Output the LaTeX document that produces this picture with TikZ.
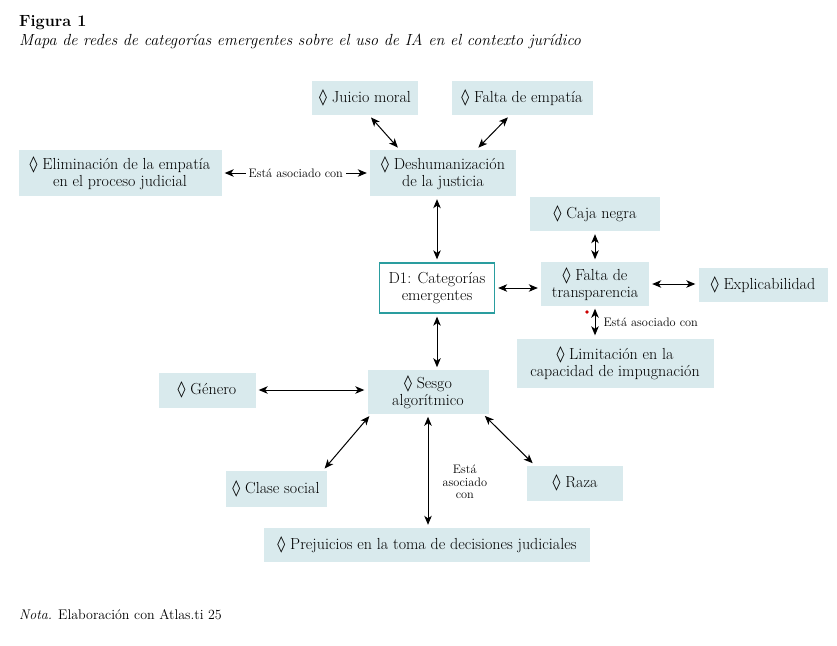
\documentclass[tikz,border=0pt]{standalone}
\usepackage{fontspec}
\usetikzlibrary{arrows, arrows.meta, positioning}
\newfontfamily\symfont{DejaVu Serif}
\newcommand{\loz}{{\symfont\char"25CA}\ }
\definecolor{boxblue}{HTML}{D9EAED}
\definecolor{tealline}{HTML}{2A9D9F}
\tikzstyle{cat} = [rectangle, fill=boxblue, inner xsep=6pt, inner ysep=5pt, align=center, font=\fontsize{16}{17}\selectfont]
\tikzstyle{core} = [rectangle, draw=tealline, line width=1.3pt, fill=white, inner sep=5pt, align=center, font=\fontsize{16}{17}\selectfont]
\tikzstyle{arrow} = [line width=1pt,<->,>={Stealth[length=9pt, width=7.5pt, inset=2.5pt]}, shorten >=3pt, shorten <=3pt]
\tikzstyle{assoc} = [fill=white, inner sep=3pt, align=center, font=\fontsize{12.3}{12.5}\selectfont]

\begin{document}
\begin{tikzpicture}[x=1pt, y=-1pt]
\useasboundingbox (0,0) rectangle (837,645);

\node (figura) [anchor=base west, inner sep=0pt, font=\fontsize{16.2}{18}\selectfont\bfseries] at (19,27) {Figura 1};
\node (titulo) [anchor=base west, inner sep=0pt, font=\fontsize{16.1}{18}\selectfont\itshape] at (19,45) {Mapa de redes de categorías emergentes sobre el uso de IA en el contexto jurídico};

\node (juicio) [cat, minimum width=106pt, minimum height=34pt] at (365,98) {\loz Juicio moral};
\node (fempatia) [cat, minimum width=141pt, minimum height=34pt] at (522,98) {\loz Falta de empatía};
\node (elim) [cat, minimum width=203pt, minimum height=46pt] at (120,173) {\loz Eliminación de la empatía\\en el proceso judicial};
\node (deshum) [cat, minimum width=146pt, minimum height=46pt] at (443,173) {\loz Deshumanización\\de la justicia};

\node (d1) [core, minimum width=115pt, minimum height=50pt] at (437,288) {D1: Categorías\\emergentes};
\node (caja) [cat, minimum width=130pt, minimum height=34pt] at (595,214) {\loz Caja negra};
\node (transp) [cat, minimum width=108pt, minimum height=34pt] at (595,284) {\loz Falta de\\transparencia};
\node (explic) [cat, minimum width=129pt, minimum height=34pt] at (763,285) {\loz Explicabilidad};
\node (limit) [cat, minimum width=197pt, minimum height=49pt] at (615,363) {\loz Limitación en la\\capacidad de impugnación};

\node (sesgo) [cat, minimum width=121pt, minimum height=40pt] at (428,392) {\loz Sesgo\\algorítmico};
\node (genero) [cat, minimum width=97pt, minimum height=35pt] at (207,390) {\loz Género};
\node (clase) [cat, minimum width=101pt, minimum height=36pt] at (276,489) {\loz Clase social};
\node (raza) [cat, minimum width=96pt, minimum height=35pt] at (575,483) {\loz Raza};
\node (prej) [cat, minimum width=326pt, minimum height=34pt] at (427,545) {\loz Prejuicios en la toma de decisiones judiciales};

\draw [arrow] ([xshift=4pt]juicio.south) -- ([xshift=30pt]deshum.north west);
\draw [arrow] ([xshift=-12pt]fempatia.south) -- ([xshift=-40pt]deshum.north east);
\draw [arrow] (elim) -- node[assoc] {Está asociado con} (deshum);
\draw [arrow] (d1.north |- deshum.south) -- (d1.north);
\draw [arrow] (d1.east) -- (d1.east -| transp.west);
\draw [arrow] (caja) -- (transp);
\draw [arrow] (transp.east) -- (transp.east -| explic.west);
\draw [arrow] (transp.south) -- node[assoc, right=5pt, fill=none] {Está asociado con} (transp.south |- limit.north);
\draw [arrow] (d1.south) -- (d1.south |- sesgo.north);
\draw [arrow] (genero.east) -- (genero.east -| sesgo.west);
\draw [arrow] ([xshift=4pt]sesgo.south west) -- ([xshift=-4pt]clase.north east);
\draw [arrow] ([xshift=-6pt]sesgo.south east) -- ([xshift=8pt]raza.north west);
\draw [arrow] (sesgo.south) -- node[assoc, right=11pt, pos=0.6, fill=none] {Está\\asociado\\con} (sesgo.south |- prej.north);

\fill [red!80!black] (587,312) circle (1.8pt);

\node (nota) [anchor=base west, inner sep=0pt, font=\fontsize{14}{17}\selectfont] at (19,619) {\textit{Nota.} Elaboración con Atlas.ti 25};
\end{tikzpicture}
\end{document}
